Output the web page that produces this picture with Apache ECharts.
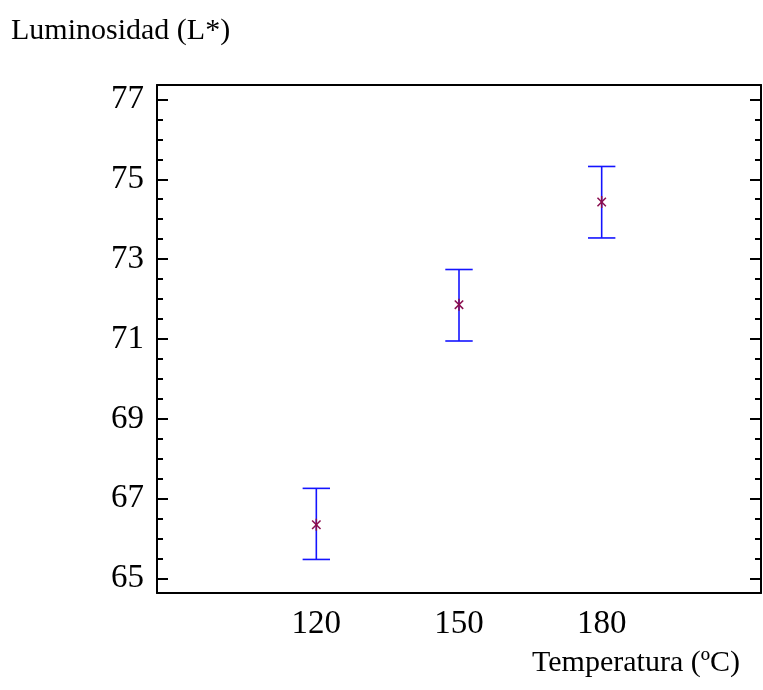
<!DOCTYPE html>
<html><head><meta charset="utf-8">
<script src="https://cdn.jsdelivr.net/npm/echarts@6/dist/echarts.min.js"></script>
<style>html,body{margin:0;padding:0;background:#fff}#c{width:763px;height:690px}</style>
</head><body><div id="c"></div>
<script>
const temperatures = [120, 150, 180];
const means = [66.35, 71.86, 74.43];
const lowers = [65.48, 70.95, 73.53];
const uppers = [67.26, 72.74, 75.32];
const yTickLabels = [65, 67, 69, 71, 73, 75, 77];
const yMinorTicks = [65.5, 66, 66.5, 67.5, 68, 68.5, 69.5, 70, 70.5, 71.5, 72, 72.5, 73.5, 74, 74.5, 75.5, 76, 76.5];
const xTickLabels = [120, 150, 180];
const yTitle = 'Luminosidad (L*)';
const xTitle = 'Temperatura (ºC)';

const FONT = 'Liberation Serif';
const chart = echarts.init(document.getElementById('c'), null, {renderer: 'canvas'});
const YMIN = 64.64, YMAX = 77.36, XMIN = 86.5, XMAX = 213.5;
const blk = {color: '#000', width: 2};

function yAx(pos, ticks, len, showLine, labels) {
  return {
    type: 'value', min: YMIN, max: YMAX, position: pos,
    axisLine: {show: showLine, onZero: false, lineStyle: blk},
    axisTick: {show: true, inside: true, length: len, customValues: ticks, lineStyle: {color: '#000', width: 2}},
    axisLabel: labels ? {show: true, customValues: labels, fontFamily: FONT, fontSize: 33, color: '#000', margin: 13} : {show: false},
    splitLine: {show: false}
  };
}

chart.setOption({
  animation: false,
  backgroundColor: '#fff',
  title: {
    text: yTitle, left: 11, top: 16, padding: 0,
    textStyle: {fontFamily: FONT, fontSize: 30, fontWeight: 'normal', color: '#000'}
  },
  grid: {left: 157, right: 2, top: 85, bottom: 97, containLabel: false},
  xAxis: [
    {
      type: 'value', min: XMIN, max: XMAX, position: 'bottom',
      axisLine: {show: true, onZero: false, lineStyle: blk},
      axisTick: {show: false},
      axisLabel: {customValues: xTickLabels, fontFamily: FONT, fontSize: 33, color: '#000', margin: 15},
      splitLine: {show: false},
      name: xTitle, nameLocation: 'end', nameGap: -21,
      nameTextStyle: {fontFamily: FONT, fontSize: 30, color: '#000', align: 'right', verticalAlign: 'top', padding: [55, 0, 0, 0]}
    },
    {
      type: 'value', min: XMIN, max: XMAX, position: 'top',
      axisLine: {show: true, onZero: false, lineStyle: blk},
      axisTick: {show: false}, axisLabel: {show: false}, splitLine: {show: false}
    }
  ],
  yAxis: [
    yAx('left', yTickLabels, 11, true, yTickLabels),
    yAx('left', yMinorTicks, 6, false, null),
    yAx('right', yTickLabels, 11, true, null),
    yAx('right', yMinorTicks, 6, false, null)
  ],
  series: [{
    type: 'custom',
    xAxisIndex: 0, yAxisIndex: 0,
    data: temperatures.map((t, i) => [t, means[i], lowers[i], uppers[i]]),
    encode: {x: 0, y: [1, 2, 3]},
    renderItem: function (params, api) {
      const x = api.value(0);
      const m = api.coord([x, api.value(1)]);
      const lo = api.coord([x, api.value(2)]);
      const hi = api.coord([x, api.value(3)]);
      const hw = 13.7;
      const bar = {stroke: '#1414ff', lineWidth: 1.6};
      const mk = {stroke: '#8a0c4e', lineWidth: 1.5};
      const a = 4.2, v = 6;
      return {
        type: 'group',
        children: [
          {type: 'line', shape: {x1: hi[0], y1: hi[1], x2: lo[0], y2: lo[1]}, style: bar},
          {type: 'line', shape: {x1: hi[0] - hw, y1: hi[1], x2: hi[0] + hw, y2: hi[1]}, style: bar},
          {type: 'line', shape: {x1: lo[0] - hw, y1: lo[1], x2: lo[0] + hw, y2: lo[1]}, style: bar},
          {type: 'line', shape: {x1: m[0], y1: m[1] - v, x2: m[0], y2: m[1] + v}, style: mk},
          {type: 'line', shape: {x1: m[0] - a, y1: m[1] - a, x2: m[0] + a, y2: m[1] + a}, style: mk},
          {type: 'line', shape: {x1: m[0] - a, y1: m[1] + a, x2: m[0] + a, y2: m[1] - a}, style: mk}
        ]
      };
    }
  }]
});
</script></body></html>
